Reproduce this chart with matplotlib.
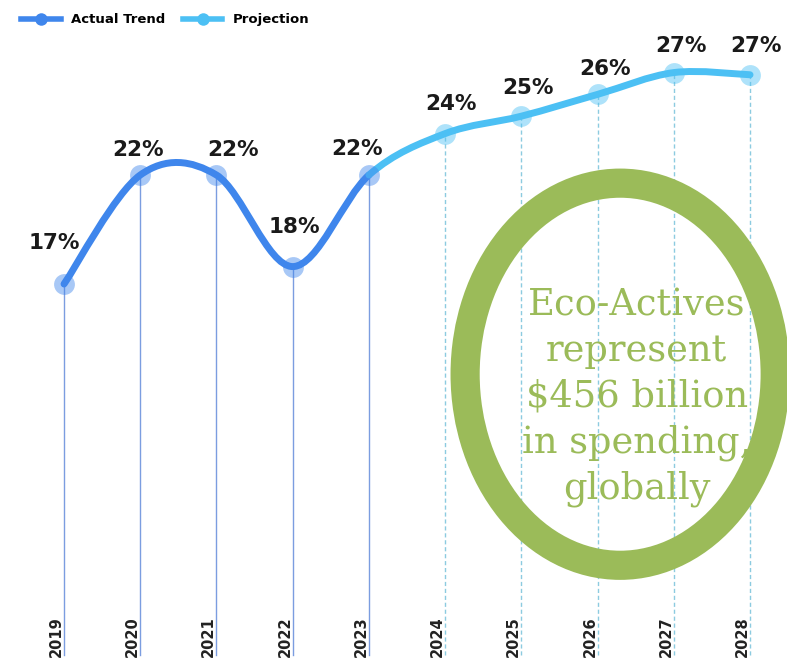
import numpy as np
import matplotlib.pyplot as plt
from matplotlib.path import Path
from matplotlib.patches import PathPatch, Ellipse
from matplotlib.lines import Line2D

years = [2019, 2020, 2021, 2022, 2023, 2024, 2025, 2026, 2027, 2028]
share = [17.0, 22.0, 22.0, 17.8, 22.0, 23.9, 24.7, 25.7, 26.7, 26.6]
labels = ['17%', '22%', '22%', '18%', '22%', '24%', '25%', '26%', '27%', '27%']
n_actual = 5  # 2019-2023 actual, 2023 onward projection

actual_c = '#3f86ec'
proj_c = '#4cc0f4'
green = '#9bbb59'


def catmull_path(x, y):
    # smooth line through the points (uniform Catmull-Rom as cubic beziers)
    pts = np.column_stack([x, y]).astype(float)
    verts = [pts[0]]
    codes = [Path.MOVETO]
    for i in range(len(pts) - 1):
        p0 = pts[max(i - 1, 0)]
        p1, p2 = pts[i], pts[i + 1]
        p3 = pts[min(i + 2, len(pts) - 1)]
        verts += [p1 + (p2 - p0) / 6, p2 - (p3 - p1) / 6, p2]
        codes += [Path.CURVE4] * 3
    return verts, codes


fig = plt.figure(figsize=(7.87, 6.60), dpi=100)
ax = fig.add_axes([0, 0, 1, 1])
ax.set_xlim(2018.16, 2028.485)
ax.set_ylim(-0.25, 30.03)
ax.set_axis_off()

# drop lines
for i, (yr, v) in enumerate(zip(years, share)):
    if i < n_actual:
        ax.plot([yr, yr], [0, v], color='#7b9de0', lw=1, zorder=1)
    else:
        ax.plot([yr, yr], [0, v], color='#8ccbe0', lw=1, ls=(0, (3, 2)), zorder=1)
    ax.text(yr - 0.1, -0.12, str(yr), rotation=90, ha='center', va='bottom',
            fontsize=10.5, fontweight='bold', color='#222222')

verts, codes = catmull_path(years, share)
k = 1 + 3 * (n_actual - 1)
act = Path(verts[:k], codes[:k])
proj = Path(verts[k - 1:], [Path.MOVETO] + codes[k:])
ax.add_patch(PathPatch(act, fill=False, edgecolor=actual_c, lw=5, capstyle='round', zorder=3))
ax.add_patch(PathPatch(proj, fill=False, edgecolor=proj_c, lw=5, capstyle='round', zorder=3))

ax.plot(years[:n_actual], share[:n_actual], 'o', ms=15, color=actual_c, alpha=0.45,
        mec='none', zorder=4)
ax.plot(years[n_actual:], share[n_actual:], 'o', ms=15, color=proj_c, alpha=0.45,
        mec='none', zorder=4)

# value labels
offs = [(-0.13, 1.9), (-0.03, 1.15), (0.22, 1.15), (0.02, 1.8), (-0.15, 1.2),
        (0.07, 1.35), (0.08, 1.3), (0.1, 1.15), (0.1, 1.2), (0.08, 1.3)]
for yr, v, lab, (dx, dy) in zip(years, share, labels, offs):
    ax.text(yr + dx, v + dy, lab, ha='center', va='center', fontsize=15.5,
            fontweight='bold', color='#1a1a1a', zorder=5)

# legend
handles = [
    Line2D([], [], color=actual_c, lw=4, marker='o', ms=9, mfc=actual_c, mec='none'),
    Line2D([], [], color=proj_c, lw=4, marker='o', ms=9, mfc=proj_c, mec='none'),
]
ax.legend(handles, ['Actual Trend', 'Projection'], loc='upper left',
          bbox_to_anchor=(0.012, 0.998), ncol=2, frameon=False, handlelength=3.0,
          handletextpad=0.8, columnspacing=1.3, prop={'weight': 'bold', 'size': 9.5})

# green callout
ring = Ellipse((0.788, 0.433), 0.394, 0.579, transform=fig.transFigure, fill=False,
               edgecolor=green, lw=21, zorder=6)
ax.add_patch(ring)
fig.text(0.809, 0.398, 'Eco-Actives\nrepresent\n$456 billion\nin spending,\nglobally',
         ha='center', va='center', fontsize=26.5, family='DejaVu Serif', color=green,
         linespacing=1.34, zorder=7)

fig.savefig('out.png', dpi=100)
